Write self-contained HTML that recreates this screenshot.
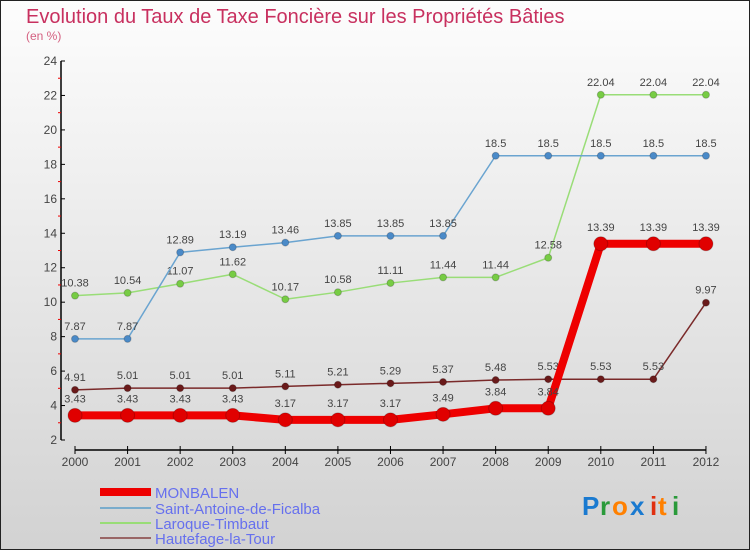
<!DOCTYPE html>
<html><head><meta charset="utf-8"><style>
body{margin:0}
#c{width:750px;height:550px;position:relative;font-family:"Liberation Sans",sans-serif;}
</style></head><body>
<div id="c">
<svg id="s" width="750" height="550" xmlns="http://www.w3.org/2000/svg">
<defs><linearGradient id="bg" x1="0" y1="0" x2="0" y2="1"><stop offset="0" stop-color="#fdfdfd"/><stop offset="1" stop-color="#d2d2d2"/></linearGradient></defs>
<rect x="0.5" y="0.5" width="749" height="549" fill="url(#bg)" stroke="#222"/>
<text x="26" y="23" font-size="20" fill="#c8305f">Evolution du Taux de Taxe Foncière sur les Propriétés Bâties</text>
<text x="26" y="40" font-size="12" fill="#d46080">(en %)</text>
<g id="axes"></g><g id="series"></g>
<g>
<rect x="100" y="488" width="51" height="8" fill="#e00"/>
<text x="155" y="498" font-size="15" fill="#6670ee">MONBALEN</text>
<line x1="100" y1="508" x2="151" y2="508" stroke="#7aaccc" stroke-width="2"/>
<text x="155" y="514" font-size="15" fill="#6670ee">Saint-Antoine-de-Ficalba</text>
<line x1="100" y1="523" x2="151" y2="523" stroke="#99dd77" stroke-width="2"/>
<text x="155" y="529" font-size="15" fill="#6670ee">Laroque-Timbaut</text>
<line x1="100" y1="538" x2="151" y2="538" stroke="#996666" stroke-width="2"/>
<text x="155" y="544" font-size="15" fill="#6670ee">Hautefage-la-Tour</text>
</g>
<g font-size="26" font-weight="bold">
<text x="582" y="515" fill="#1a7ad0">P</text><text x="600" y="515" fill="#2a9a3a">r</text><text x="612" y="515" fill="#ff8000">o</text><text x="630" y="515" fill="#1a7ad0">x</text><text x="650" y="515" fill="#e03010">i</text><text x="658" y="515" fill="#ff8000">t</text><text x="672" y="515" fill="#2a9a3a">i</text>
</g>
</svg>
</div>
<script>
const years=[2000,2001,2002,2003,2004,2005,2006,2007,2008,2009,2010,2011,2012];
const monbalen=[3.43,3.43,3.43,3.43,3.17,3.17,3.17,3.49,3.84,3.84,13.39,13.39,13.39];
const saintAntoine=[7.87,7.87,12.89,13.19,13.46,13.85,13.85,13.85,18.5,18.5,18.5,18.5,18.5];
const laroque=[10.38,10.54,11.07,11.62,10.17,10.58,11.11,11.44,11.44,12.58,22.04,22.04,22.04];
const hautefage=[4.91,5.01,5.01,5.01,5.11,5.21,5.29,5.37,5.48,5.53,5.53,5.53,9.97];
const yTicks=[2,4,6,8,10,12,14,16,18,20,22,24];
const NS="http://www.w3.org/2000/svg";
const X=i=>75+i*52.58;
const Y=v=>440-(v-2)*(379/22);
function mk(parent,tag,attrs){const e=document.createElementNS(NS,tag);for(const k in attrs)e.setAttribute(k,attrs[k]);parent.appendChild(e);return e;}
const ax=document.getElementById('axes');
const yl=mk(ax,'line',{x1:61,y1:Y(24),x2:61,y2:Y(2),stroke:'#000','stroke-width':1.5});


yTicks.forEach(t=>{
  mk(ax,'line',{x1:61,y1:Y(t),x2:65,y2:Y(t),stroke:'#000'});
  mk(ax,'line',{x1:58,y1:Y(t+1),x2:61,y2:Y(t+1),stroke:'#e00'}).style.display=t<24?'':'none';
  const tx=mk(ax,'text',{x:57,y:Y(t)+4,'font-size':12,'text-anchor':'end',fill:'#444'});
  tx.textContent=t;
  
  
});
const xl=mk(ax,'line',{x1:X(0),y1:450,x2:X(12),y2:450,stroke:'#000','stroke-width':1.5});


years.forEach((y,i)=>{
  mk(ax,'line',{x1:X(i),y1:446,x2:X(i),y2:454,stroke:'#000'});
  const tx=mk(ax,'text',{x:X(i),y:466,'font-size':12,'text-anchor':'middle',fill:'#444'});
  tx.textContent=y;
  
  
});
const sg=document.getElementById('series');
function series(vals,name,line,dot,w,r,lblOff){
  const g=mk(sg,'g',{});
  
  
  const p=mk(g,'polyline',{points:vals.map((v,i)=>X(i)+','+Y(v)).join(' '),fill:'none',stroke:line,'stroke-width':w,'stroke-linejoin':'round'});
  
  
  vals.forEach((v,i)=>{
    const c=mk(g,'circle',{cx:X(i),cy:Y(v),r:r,fill:dot,stroke:'#0003'});
    
    
    const t=mk(g,'text',{x:X(i),y:Y(v)-lblOff,'font-size':11,'text-anchor':'middle',fill:'#444'});
    t.textContent=v;
    
    
  });
}
series(hautefage,'hautefage-series','#7a2a2a','#6a1a1a',1.5,3.5,9);
series(laroque,'laroque-series','#99dd77','#77cc44',1.5,3.5,9);
series(saintAntoine,'saint-antoine-series','#6aa4d0','#4a8ac8',1.5,3.5,9);
series(monbalen,'monbalen-series','#ee0000','#e00000',8,7,13);
</script>
</body></html>
